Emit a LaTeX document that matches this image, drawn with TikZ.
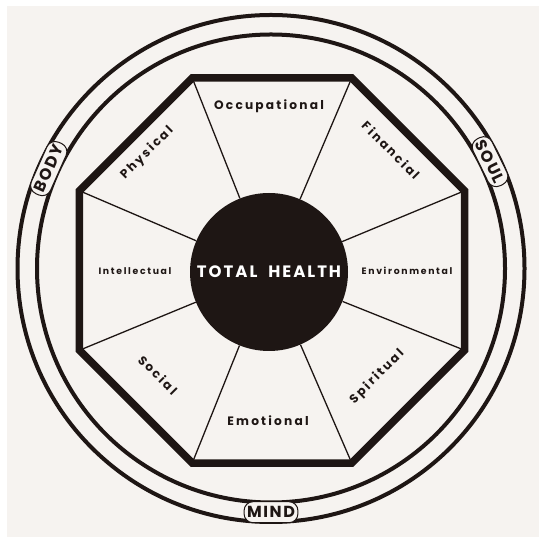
\documentclass[tikz,border=0pt]{standalone}
\usepackage{fontspec}
\newfontfamily\pop{Poppins}[LetterSpace=18]
\newfontfamily\popw{Poppins}[LetterSpace=10]
\newfontfamily\popt{Poppins}[LetterSpace=12]
\usetikzlibrary{calc}
\definecolor{ink}{RGB}{30,22,20}
\definecolor{paper}{RGB}{246,243,240}
\tikzset{
  seclabel/.style={font=\pop\bfseries\fontsize{12.2}{13}\selectfont, text=ink, inner sep=1pt},
  smalllabel/.style={font=\pop\bfseries\fontsize{9.3}{10}\selectfont, text=ink, inner sep=1pt},
  bandlabel/.style={font=\popw\bfseries\fontsize{16}{17}\selectfont, text=ink, fill=paper, draw=ink, line width=1pt,
    rounded corners=9pt, minimum height=21pt, inner xsep=3pt, inner ysep=0pt},
  ring/.style={draw=ink, line width=4pt},
  spoke/.style={draw=ink, line width=1.3pt},
}
\begin{document}
\begin{tikzpicture}[x=1pt,y=1pt]
\useasboundingbox (0,0) rectangle (539,540);
\fill[white] (0,0) rectangle (539,540);
\fill[paper] (7,3) rectangle (539,534);
% outer rings
\coordinate (C) at (271,271.5);
\draw[ring] (C) circle[radius=253.5];
\draw[ring] (C) circle[radius=234];
% octagon
\coordinate (O) at (272,269.5);
\foreach \i in {1,...,8} {
  \coordinate (v\i) at ($(O)+({22.5+45*(\i-1)}:208.4)$);
}
\node[circle, fill=ink, minimum size=158pt, inner sep=0pt] (disc) at (269,268) {};
\foreach \i in {1,...,8} { \draw[spoke] (v\i) -- (disc); }
\draw[draw=ink, line width=7.5pt, line join=miter] (v1)--(v2)--(v3)--(v4)--(v5)--(v6)--(v7)--(v8)--cycle;
\node[font=\popt\bfseries\fontsize{16.5}{18}\selectfont, text=white] (th) at (disc) {TOTAL\ \ HEALTH};
% sector labels
\node[seclabel] (occ) at (269,434) {Occupational};
\node[seclabel, rotate=-45] (fin) at (391,390) {Financial};
\node[smalllabel] (env) at (407,269) {Environmental};
\node[seclabel, rotate=45] (spi) at (377,163) {Spiritual};
\node[seclabel] (emo) at (268,119) {Emotional};
\node[seclabel, rotate=-45] (soc) at (158,165) {Social};
\node[smalllabel] (int) at (135,269) {Intellectual};
\node[seclabel, rotate=45] (phy) at (147,387) {Physical};
% band labels
\node[bandlabel, rotate=66] (body) at ($(C)+(155.8:243.7)$) {BODY};
\node[bandlabel, rotate=-64] (soul) at ($(C)+(26:243.7)$) {SOUL};
\node[bandlabel] (mind) at ($(C)+(270:243.7)$) {MIND};
\end{tikzpicture}
\end{document}
